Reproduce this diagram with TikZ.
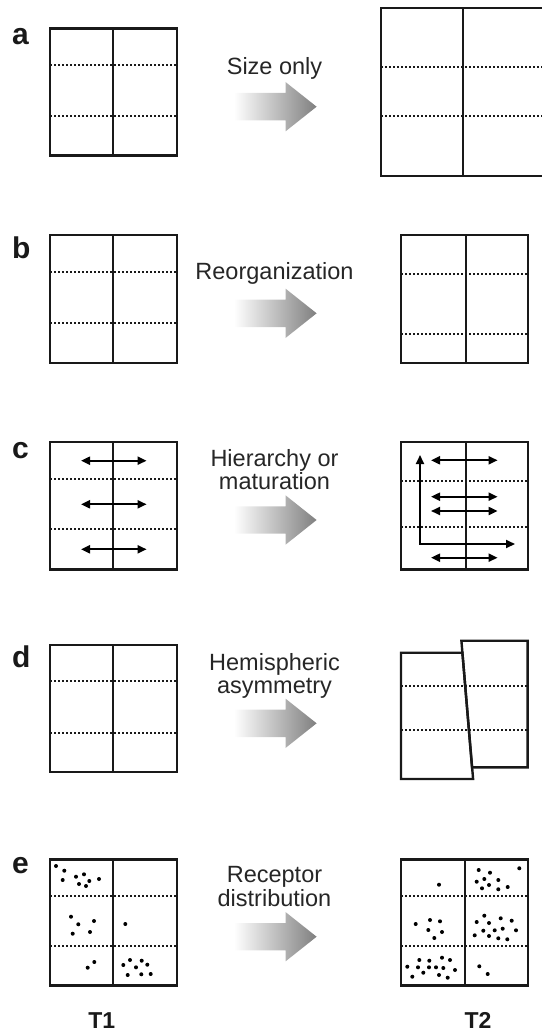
\documentclass[tikz,border=0pt]{standalone}
\usepackage{fontspec}
\setmainfont{Liberation Sans}
\usetikzlibrary{arrows.meta}
\newcommand\gridbox[7]{%
  \draw[dotline] (#1,#6) -- (#3,#6);
  \draw[dotline] (#1,#7) -- (#3,#7);
  \draw[midline] (#5,#2) -- (#5,#4);
  \draw[frame] (#1,#2) rectangle (#3,#4);}
\newcommand\gradarrow[1]{%
  \shade[left color=white, right color=black!50]
    (234,#1-13.7) -- (285.5,#1-13.7) -- (285.5,#1-24.7) -- (316.6,#1)
    -- (285.5,#1+24.7) -- (285.5,#1+13.7) -- (234,#1+13.7) -- cycle;}
\newcommand\dotsat[1]{\foreach \p in {#1} {\fill \p circle (2pt);}}
\begin{document}
\begin{tikzpicture}[x=1pt,y=-1pt,
  frame/.style={line width=2.4pt, black!90},
  midline/.style={line width=2pt, black!90},
  dotline/.style={line width=2pt, black!90, dash pattern=on 2pt off 2pt},
  dbl/.style={line width=2pt, {Triangle[length=9pt,width=8pt]}-{Triangle[length=9pt,width=8pt]}},
  lbl/.style={font=\fontsize{30}{30}\selectfont\bfseries, anchor=base west, inner sep=0pt, text=black!90},
  captext/.style={font=\fontsize{23.5}{23.5}\selectfont, anchor=base, inner sep=0pt, text=black!85},
  tlabel/.style={font=\fontsize{23}{23}\selectfont\bfseries, anchor=base, inner sep=0pt, text=black!90}]
\useasboundingbox (0,0) rectangle (541,1032);
% panel a
\node[lbl] (la) at (12,45) {a};
\gridbox{50}{28.7}{177}{155.7}{113.3}{65.3}{116.3}
\gradarrow{106.7}
\node[captext] (ta) at (274.5,75) {Size only};
\gridbox{381}{8.3}{546}{176}{463.3}{67}{116.3}
% panel b
\node[lbl] (lb) at (12,258.3) {b};
\gridbox{50}{235}{177}{362.7}{113.3}{271.7}{323.3}
\gradarrow{313.3}
\node[captext] (tb) at (274.5,279) {Reorganization};
\gridbox{401}{235}{528}{362.7}{465.7}{274.3}{334.3}
% panel c
\node[lbl] (lc) at (12,458.3) {c};
\gridbox{50}{441.7}{177}{569.3}{113.3}{479}{529.3}
\foreach \yy in {460.7,504.3,549.3} {\draw[dbl] (81,\yy) -- (146.6,\yy);}
\gradarrow{520}
\node[captext] (tc1) at (274.5,466.7) {Hierarchy or};
\node[captext] (tc2) at (274.5,489.3) {maturation};
\gridbox{401}{441.7}{528}{569.3}{465.7}{481}{526.7}
\foreach \yy in {460.3,496.7,511,557.7} {\draw[dbl] (431,\yy) -- (497.6,\yy);}
\draw[dbl] (420,455) |- (515,544);
% panel d
\node[lbl] (ld) at (12,667.3) {d};
\gridbox{50}{645}{177}{771.7}{113.3}{681}{732.7}
\gradarrow{723.3}
\node[captext] (td1) at (274.5,670) {Hemispheric};
\node[captext] (td2) at (274.5,693.3) {asymmetry};
\draw[dotline] (401,686) -- (527.6,686);
\draw[dotline] (401,730) -- (527.6,730);
\draw[frame, line join=miter] (401,652.7) -- (462.4,652.7) -- (473.1,779) -- (401,779) -- cycle;
\draw[frame, line join=miter] (461.4,640.7) -- (527.6,640.7) -- (527.6,767.3) -- (472.0,767.3) -- cycle;
% panel e
\node[lbl] (le) at (12,873.3) {e};
\gridbox{50}{859.3}{177}{985.5}{113}{895.7}{946}
\dotsat{(56,866),(64.3,870.7),(62.7,880),(76,876.7),(84,874.3),(89.3,881),(79,884),(86,886),(99,879),
  (71,916.7),(78.3,924.3),(94,921),(72.7,933.7),(90,932),
  (125.3,924),
  (94.3,962),(87.7,967.7),
  (130,960),(141.7,960.7),(123.3,965),(147.3,964.7),(136,967.3),(127.7,975),(141.3,974.3),(150.7,974)}
\gradarrow{936.7}
\node[captext] (te1) at (274.5,882.3) {Receptor};
\node[captext] (te2) at (274.5,906) {distribution};
\gridbox{401}{859.3}{528}{985.5}{464.5}{895.7}{946}
\dotsat{(439,884.7),
  (478.7,870),(490,872.7),(519.3,868.3),(484.3,879),(476.7,881.7),(498.3,880),(489,885),(482,888.3),(498.3,889.3),(507.7,887),
  (430,920),(440,921.3),(415.7,924),(428.3,930),(442,932),(434.3,938),
  (484.3,915.7),(500.7,918.3),(476.7,922),(489,923),(511.7,920.7),(483.3,930.7),(494.7,930.3),(502.7,928.7),(516,930.3),(474.7,935.3),(489,936),(498.3,938.3),(507.3,939.3),
  (419.3,960),(429.3,960.7),(442,957.7),(450,960),(407.3,966.7),(418,967.3),(429,967.3),(436,967.3),(443.3,968),(455,970),(423.3,972.7),(412.3,976.7),(439,975),(447.7,977.7),
  (479.3,966.3),(487.7,974)}
\node[tlabel] (t1) at (101.7,1028) {T1};
\node[tlabel] (t2) at (478,1028) {T2};
\end{tikzpicture}
\end{document}
